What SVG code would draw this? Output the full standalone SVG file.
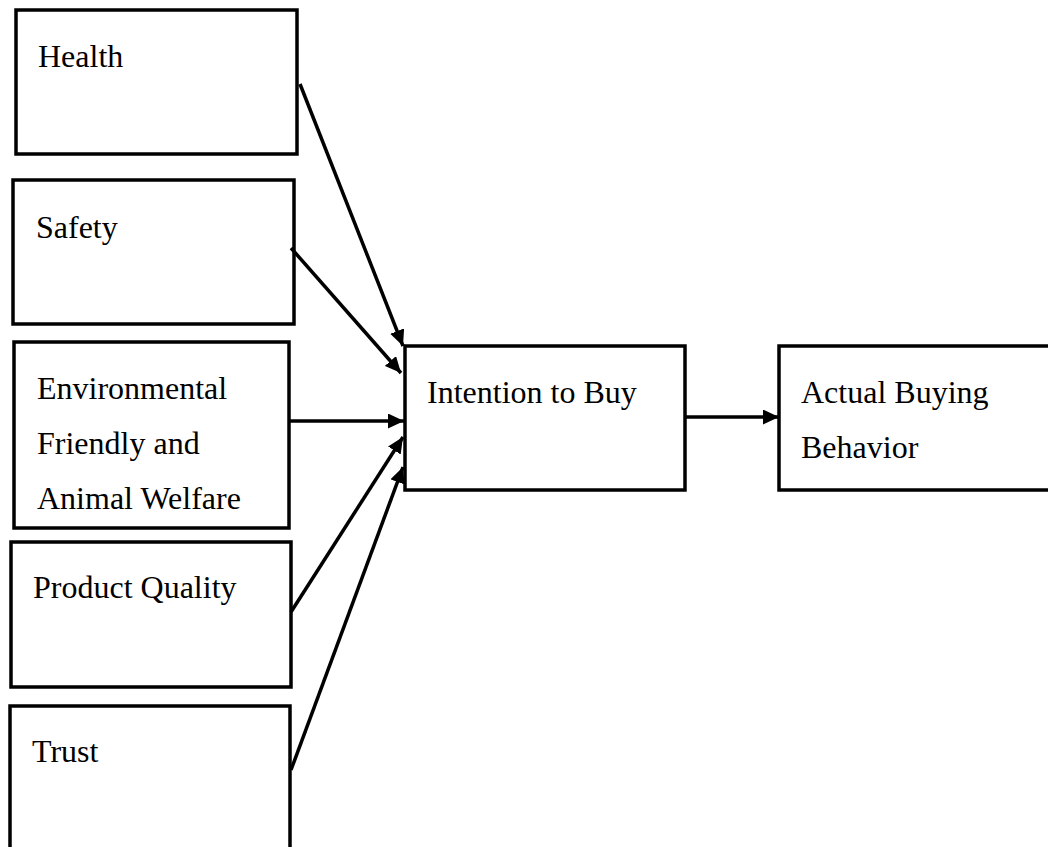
<svg xmlns="http://www.w3.org/2000/svg" width="1048" height="847" viewBox="0 0 1048 847">
<style>
.box{fill:#fff;stroke:#000;stroke-width:3.5}
.t{font-family:"Liberation Serif","Times New Roman",serif;font-size:32px;fill:#000}
.c{stroke:#000;stroke-width:3.5;fill:none}
</style>
<defs>
<marker id="ah" markerUnits="userSpaceOnUse" markerWidth="17" markerHeight="15" refX="16" refY="7.5" orient="auto">
<path d="M0,0 L16,7.5 L0,15 Z" fill="#000"/>
</marker>
</defs>
<rect width="1048" height="847" fill="#fff"/>
<g id="health"><rect class="box" x="16" y="10" width="281" height="144"/><text class="t" x="38" y="67">Health</text></g>
<g id="safety"><rect class="box" x="13" y="180" width="281" height="144"/><text class="t" x="36" y="238">Safety</text></g>
<g id="env"><rect class="box" x="14" y="342" width="275" height="186"/><text class="t" x="37" y="399">Environmental</text><text class="t" x="37" y="454">Friendly and</text><text class="t" x="37" y="509">Animal Welfare</text></g>
<g id="quality"><rect class="box" x="11" y="542" width="280" height="145"/><text class="t" x="33" y="598">Product Quality</text></g>
<g id="trust"><rect class="box" x="10" y="706" width="280" height="160"/><text class="t" x="32" y="762">Trust</text></g>
<g id="intention"><rect class="box" x="405" y="346" width="280" height="144"/><text class="t" x="427" y="403">Intention to Buy</text></g>
<g id="actual"><rect class="box" x="779" y="346" width="290" height="144"/><text class="t" x="801" y="403">Actual Buying</text><text class="t" x="801" y="458">Behavior</text></g>
<g id="connectors">
<line class="c" x1="300" y1="84" x2="403" y2="346" marker-end="url(#ah)"/>
<line class="c" x1="291" y1="248" x2="401" y2="373" marker-end="url(#ah)"/>
<line class="c" x1="289" y1="421" x2="404" y2="421" marker-end="url(#ah)"/>
<line class="c" x1="291" y1="612" x2="403" y2="437" marker-end="url(#ah)"/>
<line class="c" x1="291" y1="770" x2="403" y2="467" marker-end="url(#ah)"/>
<line class="c" x1="685" y1="417" x2="779" y2="417" marker-end="url(#ah)"/>
</g>
</svg>
